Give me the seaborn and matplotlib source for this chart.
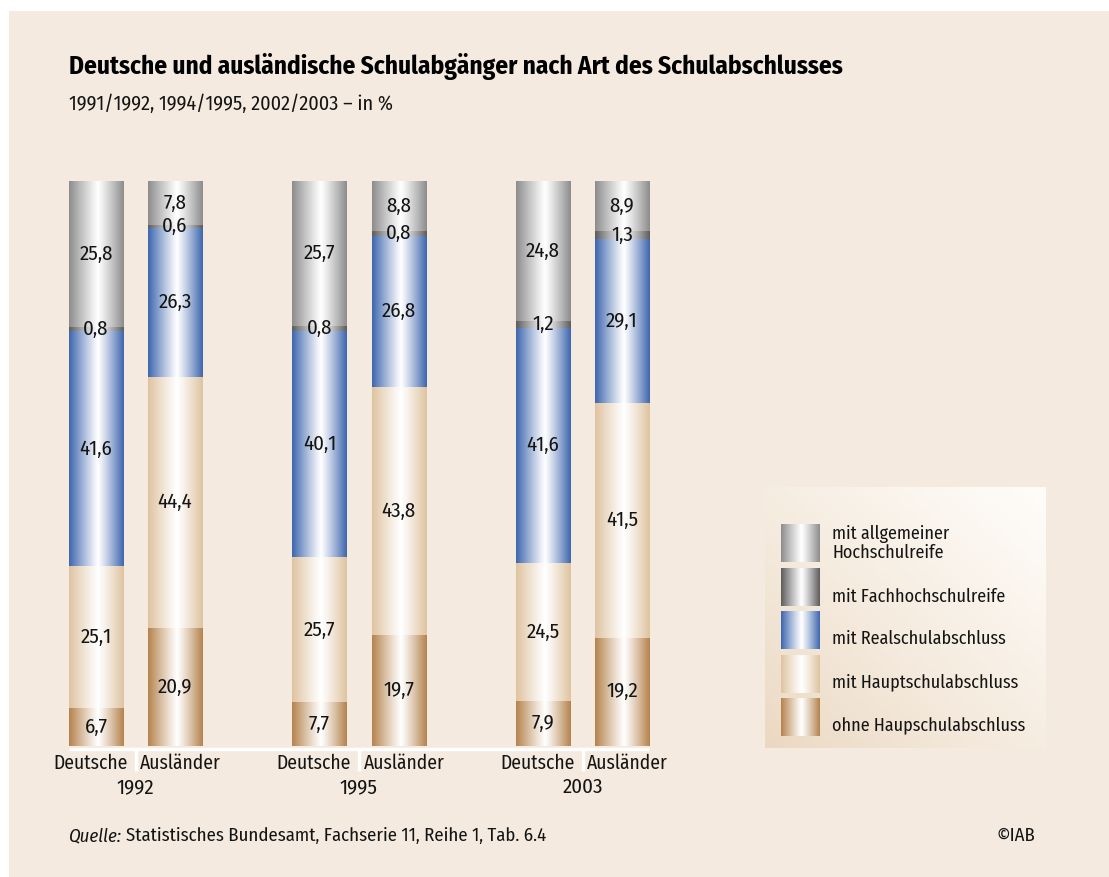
import numpy as np
import pandas as pd
import matplotlib
matplotlib.use('Agg')
import matplotlib.pyplot as plt
import seaborn as sns
from matplotlib.colors import to_rgb

# ------------------------------------------------------------
#  Daten (Anteile in %, von unten nach oben gestapelt)
# ------------------------------------------------------------
jahre = ['1992', '1995', '2003']
gruppen = ['Deutsche', 'Ausländer']
kategorien = ['ohne Haupschulabschluss', 'mit Hauptschulabschluss',
              'mit Realschulabschluss', 'mit Fachhochschulreife',
              'mit allgemeiner\nHochschulreife']
# Reihenfolge der Balken: 1992 D, 1992 A, 1995 D, 1995 A, 2003 D, 2003 A
ohne_haupt = [6.7, 20.9, 7.7, 19.7, 7.9, 19.2]
haupt = [25.1, 44.4, 25.7, 43.8, 24.5, 41.5]
real = [41.6, 26.3, 40.1, 26.8, 41.6, 29.1]
fach = [0.8, 0.6, 0.8, 0.8, 1.2, 1.3]
allg = [25.8, 7.8, 25.7, 8.8, 24.8, 8.9]

schichten = [ohne_haupt, haupt, real, fach, allg]
RANDFARBEN = ['#b5824c', '#dfc3a0', '#3d66ae', '#5c5c5c', '#8c8c8c']
HINTERGRUND = '#f4eadf'
TEXT = '#141414'
W, H = 1109, 877

sns.set_style('white')
plt.rcParams['font.family'] = ['Fira Sans Condensed', 'DejaVu Sans']


def verlauf(randfarbe, n=256):
    """Horizontaler Verlauf: dunkel am Rand, weiss in der Mitte."""
    t = np.linspace(0, 1, n)
    c = 0.53
    d = np.where(t < c, (c - t) / c, (t - c) / (1 - c))
    w = d ** 1.1
    rand = np.array(to_rgb(randfarbe))
    hell = np.array([1.0, 1.0, 1.0])
    img = hell[None, :] * (1 - w[:, None]) + rand[None, :] * w[:, None]
    return img[None, :, :]


fig = plt.figure(figsize=(W / 100, H / 100), dpi=100)
fig.patch.set_facecolor('white')

# Hintergrund-Achse in Pixelkoordinaten
bg = fig.add_axes([0, 0, 1, 1], zorder=0)
bg.add_patch(plt.Rectangle((9, 11), W - 9, H - 11, color=HINTERGRUND, lw=0, zorder=1))

# Legendenkasten mit diagonalem Verlauf
gx, gy = np.meshgrid(np.linspace(0, 1, 200), np.linspace(0, 1, 200))
s = np.clip((gx + (1 - gy)) / 2, 0, 1)[..., None] ** 0.8
box = np.array(to_rgb('#fffdfa')) * s + np.array(to_rgb('#ead7c0')) * (1 - s)
bg.imshow(box, extent=(765, 1046, 748, 487), aspect='auto',
          interpolation='bilinear', zorder=2)

leg_y = [543, 587, 630, 674, 717]
leg_text_y = [543, 597, 639, 682, 725]
for y, ty, farbe, txt in zip(leg_y, leg_text_y, RANDFARBEN[::-1], kategorien[::-1]):
    bg.imshow(verlauf(farbe), extent=(781, 820, y + 19, y - 19),
              aspect='auto', interpolation='bilinear', zorder=3)
    bg.text(832, ty, txt, fontsize=13, va='center', ha='left',
            color=TEXT, linespacing=1.05, zorder=4)

bg.set_xlim(0, W)
bg.set_ylim(H, 0)
bg.axis('off')

# Titel, Untertitel, Quelle
bg.text(69, 66, 'Deutsche und ausländische Schulabgänger nach Art des Schulabschlusses',
        fontsize=18.2, fontweight='bold', va='center', ha='left', color='black')
bg.text(69, 104, '1991/1992, 1994/1995, 2002/2003 – in %',
        fontsize=14.5, va='center', ha='left', color=TEXT)
t = bg.text(69, 836, 'Quelle:', fontsize=13.5, style='italic',
            va='center', ha='left', color=TEXT)
fig.canvas.draw()
bb = t.get_window_extent()
bg.text(69 + bb.width + 4, 836, 'Statistisches Bundesamt, Fachserie 11, Reihe 1, Tab. 6.4',
        fontsize=13.5, va='center', ha='left', color=TEXT)
bg.text(1035, 836, '©IAB', fontsize=13.5, va='center', ha='right', color=TEXT)

# ------------------------------------------------------------
#  Gestapelte Balken
# ------------------------------------------------------------
ax = fig.add_axes([23.75 / W, (H - 746) / H, 670.5 / W, (746 - 181) / H], zorder=1)
ax.patch.set_alpha(0)

kumuliert = np.cumsum(np.array(schichten), axis=0)
balken_jahr = [j for j in jahre for _ in gruppen]
balken_gruppe = [g for _ in jahre for g in gruppen]

mitten, breite = [], None
for k, farbe in enumerate(RANDFARBEN):
    df = pd.DataFrame({'jahr': balken_jahr, 'gruppe': balken_gruppe,
                       'oben': kumuliert[k]})
    n_vorher = len(ax.patches)
    sns.barplot(data=df, x='jahr', y='oben', hue='gruppe', order=jahre,
                hue_order=gruppen, width=0.707, gap=0.3165, dodge=True,
                legend=False, errorbar=None, ax=ax, palette=[farbe, farbe])
    neue = sorted(ax.patches[n_vorher:], key=lambda p: p.get_x())
    mitten = []
    for i, p in enumerate(neue):
        x0, bw = p.get_x(), p.get_width()
        oben = p.get_height()
        unten = kumuliert[k - 1][i] if k > 0 else 0
        p.set_visible(False)
        ax.imshow(verlauf(farbe), extent=(x0, x0 + bw, unten, oben),
                  aspect='auto', interpolation='bilinear', zorder=2)
        wert = schichten[k][i]
        ax.text(x0 + bw / 2, (unten + oben) / 2, f'{wert:.1f}'.replace('.', ','),
                ha='center', va='center', fontsize=15, color=TEXT, zorder=3)
        mitten.append(x0 + bw / 2)
        breite = bw

ax.set_xlim(-0.5, 2.5)
ax.set_ylim(0, 100)
ax.set_xticks([])
ax.set_yticks([])
ax.set_xlabel('')
ax.set_ylabel('')
sns.despine(ax=ax, left=True, bottom=True)

# Grundlinie und Trennstriche
ax.plot([mitten[0] - breite / 2, mitten[-1] + breite / 2], [-0.45, -0.45],
        color='white', lw=2.5, clip_on=False, zorder=1, solid_capstyle='butt')
for j in range(len(jahre)):
    ax.plot([j, j], [-0.45, -4.4], color='white', lw=2.5, clip_on=False,
            zorder=1, solid_capstyle='butt')
    ax.text(j, -7.3, jahre[j], ha='center', va='center', fontsize=15, color=TEXT)
for i, x in enumerate(mitten):
    versatz = -0.025 if balken_gruppe[i] == 'Deutsche' else 0.025
    ax.text(x + versatz, -3.1, balken_gruppe[i], ha='center', va='center',
            fontsize=14, color=TEXT)

fig.savefig('out.png', dpi=100)
